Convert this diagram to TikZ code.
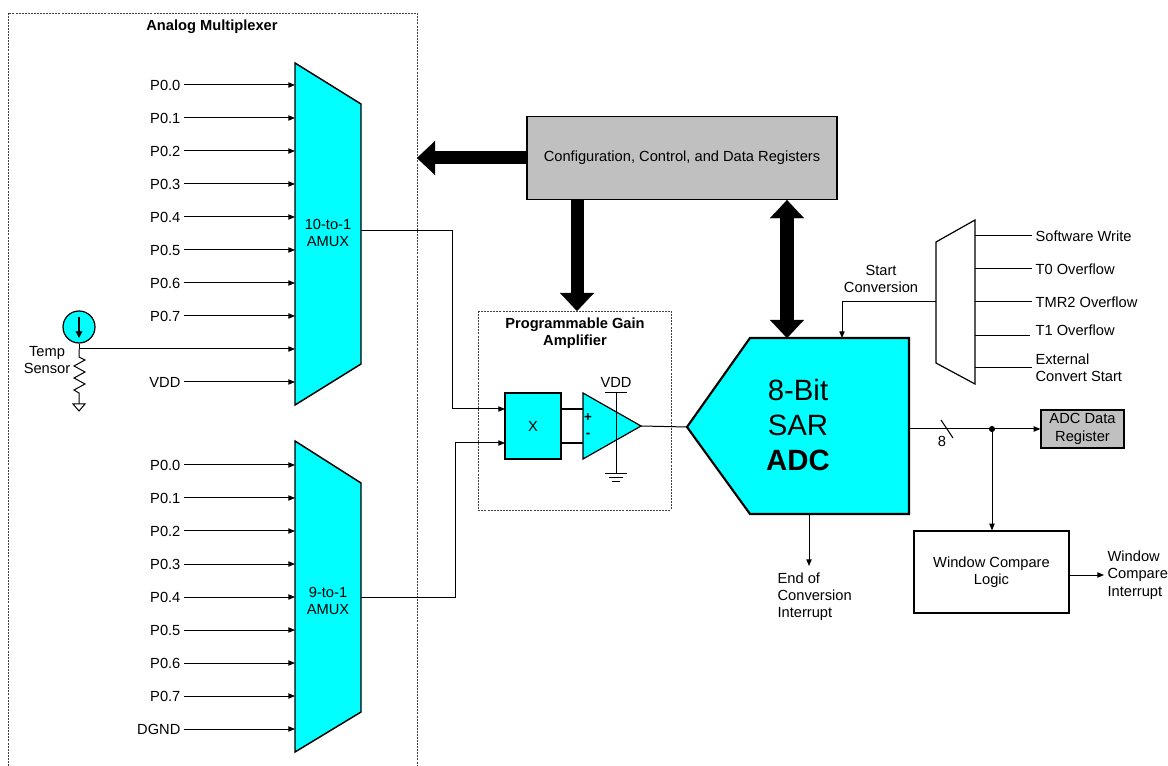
\documentclass[tikz,border=0pt]{standalone}
\usepackage{fontspec}
\setmainfont{Liberation Sans}
\usetikzlibrary{arrows.meta}
\definecolor{muxcyan}{RGB}{0,255,255}
\definecolor{reggray}{RGB}{192,192,192}
\tikzset{
  sig/.style={line width=0.75pt, -{Triangle[length=5pt,width=4pt]}},
  wire/.style={line width=0.75pt},
  bus/.style={line width=9.75pt, -{Triangle[length=13.5pt,width=25.5pt,line width=0.1pt]}},
  dbus/.style={line width=10.5pt, {Triangle[length=13.5pt,width=25.5pt,line width=0.1pt]}-{Triangle[length=13.5pt,width=25.5pt,line width=0.1pt]}},
  lbl/.style={font=\fontsize{11}{13}\selectfont, inner sep=2.5pt},
  ttl/.style={font=\fontsize{11}{13}\selectfont\bfseries, align=center},
  frame/.style={draw=black!75, line width=0.6pt, dash pattern=on 1.5pt off 0.8pt},
  muxshape/.style={draw, fill=muxcyan, line width=1.1pt},
  regbox/.style={draw, fill=reggray, line width=0.9pt, font=\fontsize{11}{13}\selectfont, align=center},
  plainbox/.style={draw, line width=0.9pt, font=\fontsize{11}{13}\selectfont, align=center},
}
\begin{document}
\begin{tikzpicture}[x=0.75pt, y=-0.75pt]
  \useasboundingbox (0,0) rectangle (1168,766);

  % analog multiplexer frame
  \draw[frame] (8,766) -- (8,13) -- (417,13) -- (417,766);
  \node[ttl] (amtitle) at (212,27) {Analog Multiplexer};
  \coordinate (frameedge) at (417,0);

  % the two muxes
  \draw[muxshape] (295,63) -- (361,104) -- (361,364) -- (295,405) -- cycle;
  \draw[muxshape] (295,441) -- (361,483) -- (361,712) -- (295,752) -- cycle;
  \coordinate (amux) at (295,0);
  \node[lbl, align=center] (amuxlbl) at (328,233) {10-to-1\\AMUX};
  \node[lbl, align=center] (bmuxlbl) at (328,601) {9-to-1\\AMUX};

  % inputs of the 10-to-1 mux
  \node[lbl, anchor=east] (a0) at (184,85)  {P0.0};
  \node[lbl, anchor=east] (a1) at (184,118) {P0.1};
  \node[lbl, anchor=east] (a2) at (184,151) {P0.2};
  \node[lbl, anchor=east] (a3) at (184,184) {P0.3};
  \node[lbl, anchor=east] (a4) at (184,217) {P0.4};
  \node[lbl, anchor=east] (a5) at (184,250) {P0.5};
  \node[lbl, anchor=east] (a6) at (184,283) {P0.6};
  \node[lbl, anchor=east] (a7) at (184,316) {P0.7};
  \node[lbl, anchor=east] (avdd) at (184,382) {VDD};
  \draw[sig] (a0) -- (a0 -| amux);
  \draw[sig] (a1) -- (a1 -| amux);
  \draw[sig] (a2) -- (a2 -| amux);
  \draw[sig] (a3) -- (a3 -| amux);
  \draw[sig] (a4) -- (a4 -| amux);
  \draw[sig] (a5) -- (a5 -| amux);
  \draw[sig] (a6) -- (a6 -| amux);
  \draw[sig] (a7) -- (a7 -| amux);
  \draw[sig] (avdd) -- (avdd -| amux);

  % inputs of the 9-to-1 mux
  \node[lbl, anchor=east] (b0) at (184,465) {P0.0};
  \node[lbl, anchor=east] (b1) at (184,498) {P0.1};
  \node[lbl, anchor=east] (b2) at (184,531) {P0.2};
  \node[lbl, anchor=east] (b3) at (184,564) {P0.3};
  \node[lbl, anchor=east] (b4) at (184,597) {P0.4};
  \node[lbl, anchor=east] (b5) at (184,630) {P0.5};
  \node[lbl, anchor=east] (b6) at (184,663) {P0.6};
  \node[lbl, anchor=east] (b7) at (184,696) {P0.7};
  \node[lbl, anchor=east] (bgnd) at (184,729) {DGND};
  \draw[sig] (b0) -- (b0 -| amux);
  \draw[sig] (b1) -- (b1 -| amux);
  \draw[sig] (b2) -- (b2 -| amux);
  \draw[sig] (b3) -- (b3 -| amux);
  \draw[sig] (b4) -- (b4 -| amux);
  \draw[sig] (b5) -- (b5 -| amux);
  \draw[sig] (b6) -- (b6 -| amux);
  \draw[sig] (b7) -- (b7 -| amux);
  \draw[sig] (bgnd) -- (bgnd -| amux);

  % temp sensor
  \node[circle, draw, fill=muxcyan, line width=0.9pt, minimum size=24pt, inner sep=0pt] (ts) at (79,327) {};
  \draw[line width=0.9pt, -{Triangle[length=5pt,width=5pt]}] (79,317) -- (79,338);
  \coordinate (tsj) at (79,349);
  \draw[wire] (ts.south) -- (tsj);
  \draw[sig] (tsj) -- (tsj -| amux);
  \draw[wire] (tsj) -- (79,357) -- (85,360) -- (74,366) -- (85,372) -- (74,378) -- (85,384) -- (74,390) -- (79,393) -- (79,404);
  \draw[wire] (73,404) -- (85,404) -- (79,411) -- cycle;
  \node[lbl, align=center] (tslbl) at (47,360) {Temp\\Sensor};

  % programmable gain amplifier
  \draw[frame] (478,311) rectangle (671,510);
  \node[ttl] (pgatitle) at (575,333) {Programmable Gain\\Amplifier};
  \coordinate (pgatop) at (577,311);
  \node[draw, fill=muxcyan, line width=0.9pt, minimum width=42pt, minimum height=49.5pt,
        font=\fontsize{11}{13}\selectfont] (xbox) at (533,426) {X};
  \coordinate (xina) at (505,409);
  \coordinate (xinb) at (505,443);
  \coordinate (amuxout) at (361,231);
  \coordinate (bmuxout) at (361,597);
  \draw[sig] (amuxout) -- (452,231) -- (452,409) -- (xina);
  \draw[sig] (bmuxout) -- (455,597) -- (455,443) -- (xinb);
  \draw[line width=2pt] (561,409) -- (583,409);
  \draw[line width=2pt] (561,443) -- (583,443);
  \draw[fill=muxcyan, line width=0.9pt] (583,393) -- (641,426) -- (583,459) -- cycle;
  \coordinate (opout) at (641,426);
  \node[font=\fontsize{10}{12}\selectfont\bfseries, inner sep=0pt] (plus) at (588,418) {+};
  \node[font=\fontsize{10}{12}\selectfont\bfseries, inner sep=0pt] (minus) at (588,435) {-};
  \draw[wire] (605,393) -- (627,393);
  \draw[wire] (616,393) -- (616,474);
  \draw[wire] (605,474) -- (627,474);
  \draw[wire] (609,478) -- (623,478);
  \draw[wire] (612,482) -- (620,482);
  \node[lbl] (vdd) at (616,382) {VDD};

  % SAR ADC
  \draw[fill=muxcyan, line width=1.6pt] (687,427) -- (750,338) -- (909,338) -- (909,514) -- (750,514) -- cycle;
  \node[font=\fontsize{22}{26}\selectfont, align=center] (adc) at (798,425) {8-Bit\\SAR\\\textbf{ADC}};
  \coordinate (adcin) at (687,427);
  \draw[wire] (opout) -- (adcin);
  \coordinate (adctop) at (787,338);
  \coordinate (adcsc) at (842,338);
  \coordinate (adcout) at (909,429);
  \coordinate (adceoc) at (809,514);

  % registers and buses
  \node[regbox, minimum width=232.5pt, minimum height=62.25pt] (cfg) at (682,158) {Configuration, Control, and Data Registers};
  \draw[bus] (cfg.west) -- (cfg.west -| frameedge);
  \draw[bus] (cfg.south -| pgatop) -- (pgatop);
  \draw[dbus] (cfg.south -| adctop) -- (adctop);

  % start of conversion mux
  \draw[line width=0.9pt] (936,242) -- (975,220) -- (975,384) -- (936,363) -- cycle;
  \coordinate (smux) at (975,0);
  \node[lbl, anchor=west] (sw) at (1032,236) {Software Write};
  \node[lbl, anchor=west] (t0) at (1032,269) {T0 Overflow};
  \node[lbl, anchor=west] (tmr2) at (1032,302) {TMR2 Overflow};
  \node[lbl, anchor=west] (t1) at (1032,330) {T1 Overflow};
  \node[lbl, anchor=west, align=left] (ext) at (1032,368) {External\\Convert Start};
  \coordinate (t1in) at (1030,336);
  \draw[wire] (sw) -- (sw -| smux);
  \draw[wire] (t0) -- (t0 -| smux);
  \draw[wire] (tmr2) -- (tmr2 -| smux);
  \draw[wire] (t1in) -- (t1in -| smux);
  \draw[wire] (ext) -- (ext -| smux);
  \coordinate (smuxout) at (936,302);
  \draw[sig] (smuxout) -| (adcsc);
  \node[lbl, align=center] (sclbl) at (881,279) {Start\\Conversion};

  % output side
  \node[regbox, minimum width=62.25pt, minimum height=28.5pt, inner sep=1pt] (adcreg) at (1082.5,429) {ADC Data\\Register};
  \draw[sig] (adcout) -- (adcreg.west);
  \draw[wire] (941,420) -- (953,438);
  \node[lbl] (eight) at (942,441) {8};
  \coordinate (tap) at (992,429);
  \fill (tap) circle (2.3pt);
  \node[plainbox, minimum width=116.25pt, minimum height=61.5pt] (wcl) at (991.5,572) {Window Compare\\Logic};
  \draw[sig] (tap) -- (tap |- wcl.north);
  \node[lbl, anchor=west, align=left] (wcint) at (1104,575) {Window\\Compare\\Interrupt};
  \draw[sig] (wcl.east |- wcint.west) -- (wcint.west);
  \node[lbl, anchor=north west, align=left] (eoc) at (774,569) {End of\\Conversion\\Interrupt};
  \coordinate (eocend) at (809,566);
  \draw[sig] (adceoc) -- (eocend);
\end{tikzpicture}
\end{document}
